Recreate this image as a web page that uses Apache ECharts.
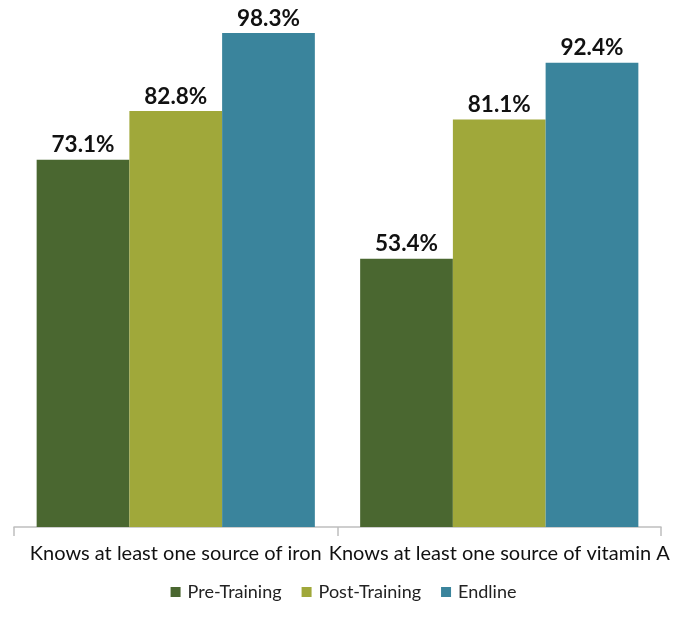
<!DOCTYPE html>
<html><head><meta charset="utf-8">
<script src="https://cdn.jsdelivr.net/npm/echarts@6/dist/echarts.min.js"></script>
<style>html,body{margin:0;padding:0;background:#fff}#c{width:687px;height:631px}</style>
</head><body><div id="c"></div>
<script>
const categories = ["Knows at least one source of iron", "Knows at least one source of vitamin A"];
const seriesNames = ["Pre-Training", "Post-Training", "Endline"];
const preTraining = [73.1, 53.4];
const postTraining = [82.8, 81.1];
const endline = [98.3, 92.4];
const colors = ["#4a6730", "#a0a83a", "#3a849c"];
const FONT = "Lato";
const chart = echarts.init(document.getElementById('c'), null, {renderer: 'canvas'});
const values = [preTraining, postTraining, endline];
chart.setOption({
  animation: false,
  grid: {left: 14, right: 26, top: 24.5, bottom: 104, containLabel: false},
  legend: {
    bottom: 25, left: 'center', itemWidth: 10, itemHeight: 10, itemGap: 20,
    icon: 'rect',
    textStyle: {fontFamily: FONT, fontSize: 18, color: '#222', padding: [0,0,0,2]},
    data: seriesNames
  },
  xAxis: {
    type: 'category', data: categories,
    axisLine: {lineStyle: {color: '#bfbfbf', width: 1.5}},
    axisTick: {show: true, length: 9, lineStyle: {color: '#bfbfbf', width: 1.5}},
    axisLabel: {fontFamily: FONT, fontSize: 20, color: '#111', margin: 17, interval: 0}
  },
  yAxis: {type: 'value', min: 0, max: 100, show: false, splitLine: {show: false}},
  series: seriesNames.map((n, i) => ({
    name: n, type: 'bar', data: values[i],
    itemStyle: {color: colors[i]},
    barGap: '0%', barCategoryGap: '14%',
    label: {show: true, position: 'top', distance: 3, fontFamily: FONT, fontWeight: 'bold', fontSize: 22.5, color: '#111',
      formatter: p => p.value.toFixed(1) + '%'}
  }))
});
</script></body></html>
